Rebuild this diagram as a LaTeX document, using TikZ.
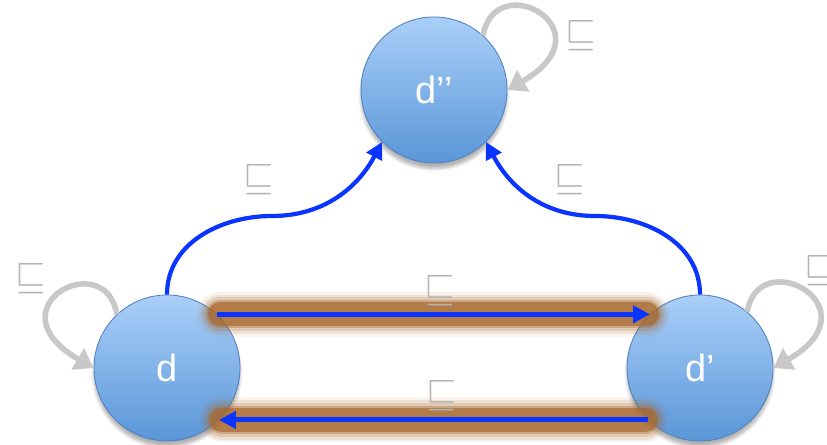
\documentclass[tikz,border=0pt]{standalone}
\usepackage{fontspec}
\setmainfont{Liberation Sans}
\usepackage{graphicx}
\usetikzlibrary{arrows.meta,shadows.blur}
\definecolor{latlight}{HTML}{AACFF8}
\definecolor{latdark}{HTML}{5A96D8}
\definecolor{latrim}{HTML}{4F7FBF}
\definecolor{latblue}{HTML}{0A34FF}
\definecolor{latloop}{HTML}{C8C8C8}
\definecolor{latlabel}{HTML}{B4B4B4}
\definecolor{latglow}{HTML}{A8682E}
\newcommand{\ordsym}{\scalebox{2.8}{$\sqsubseteq$}}

\begin{document}
\begin{tikzpicture}[x=0.025cm,y=0.025cm,
  state/.style={circle,minimum size=3.65cm,inner sep=0pt,draw=latrim,line width=0.6pt,
    top color=latlight,bottom color=latdark,text=white,font=\fontsize{27}{29}\selectfont,
    blur shadow={shadow xshift=0pt,shadow yshift=-4pt,shadow blur steps=6,shadow opacity=30}},
  lift/.style={draw=latblue,line width=3pt,-{Triangle[length=12pt,width=12pt]}},
  selfloop/.style={draw=latloop,line width=4pt,-{Triangle[length=13pt,width=17pt]}},
  ordlabel/.style={text=latlabel,inner sep=0pt}]
  \useasboundingbox (0,0) rectangle (827,445);

  % the three elements
  \node[state] (dpp) at (434,355) {d’’};
  \node[state] (d) at (167,77) {d};
  \node[state] (dp) at (700,77) {d’};

  % glow under the straight arrows
  \foreach \w/\o in {32/0.08,28/0.12,24/0.2,20/0.35,17/0.7}{
    \draw[latglow,line width=\w pt,opacity=\o,line cap=round,shorten <=2pt,shorten >=2pt] (d.47) -- (dp.133);
    \draw[latglow,line width=\w pt,opacity=\o,line cap=round,shorten <=2pt,shorten >=2pt] (dp.-135) -- (d.-45);
  }
  \draw[lift,line width=3.5pt] (d.47) -- (dp.133);
  \draw[lift,line width=3.5pt] (dp.-135) -- (d.-45);

  % up to d''
  \coordinate (lbend) at (272,229);
  \coordinate (rbend) at (595,229);
  \draw[lift] (d.north) to[out=90,in=180] (lbend) to[out=0,in=-118] (dpp.225);
  \draw[lift] (dp.north) to[out=90,in=0] (rbend) to[out=180,in=-62] (dpp.315);

  % reflexive loops
  \draw[selfloop] (dpp.48) .. controls +(80:70) and +(30:120) .. (dpp.east);
  \draw[selfloop] (d.133) .. controls +(100:70) and +(150:120) .. (d.west);
  \draw[selfloop] (dp.50) .. controls +(80:70) and +(30:120) .. (dp.east);

  % order labels
  \node[ordlabel] (otop) at (581,409) {\ordsym};
  \node[ordlabel] (oleft) at (31,166) {\ordsym};
  \node[ordlabel] (oright) at (820,174) {\ordsym};
  \node[ordlabel] (olift) at (259,265) {\ordsym};
  \node[ordlabel] (orlift) at (570,265) {\ordsym};
  \node[ordlabel] (ofwd) at (440,154) {\ordsym};
  \node[ordlabel] (oback) at (442,49) {\ordsym};
\end{tikzpicture}
\end{document}
